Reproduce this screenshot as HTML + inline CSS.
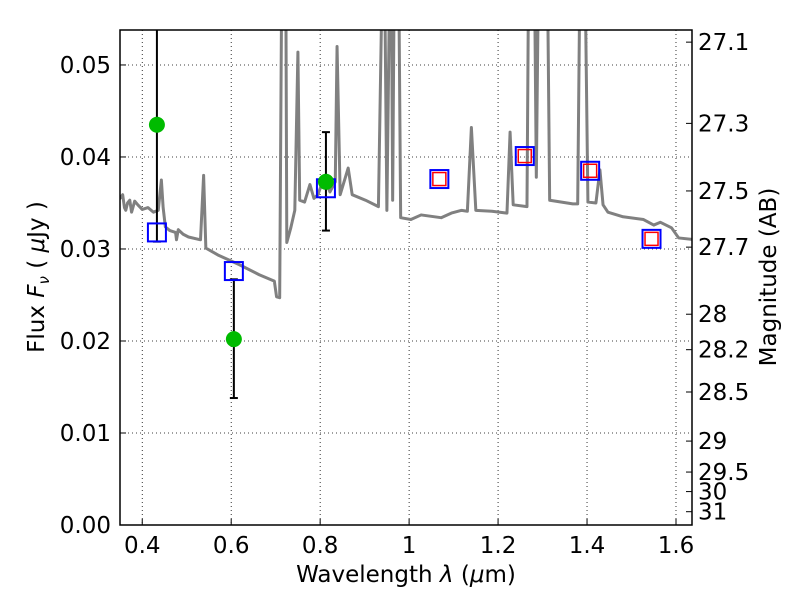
<!DOCTYPE html>
<html><head><meta charset="utf-8"><style>
body{margin:0;background:#fff}
svg text{font-family:"DejaVu Sans","Liberation Sans",sans-serif;fill:#000}
</style></head><body>
<svg id="chart" width="800" height="600" xmlns="http://www.w3.org/2000/svg">
<defs><clipPath id="clip"><rect x="120" y="30" width="572" height="495"/></clipPath></defs>
<g id="grid"></g>
<g id="series" clip-path="url(#clip)"></g>
<rect x="120" y="30" width="572" height="495" fill="none" stroke="#000" stroke-width="1.5"/>
<g id="axes"></g>
<text x="406" y="582" font-size="23" text-anchor="middle">Wavelength  <tspan font-style="italic">λ</tspan> (<tspan font-style="italic">μ</tspan>m)</text>
<text transform="translate(44,277) rotate(-90)" font-size="23" text-anchor="middle">Flux  <tspan font-style="italic">F</tspan><tspan font-style="italic" font-size="15" dy="5">ν</tspan><tspan dy="-5">   ( </tspan><tspan font-style="italic">μ</tspan>Jy )</text>
<text transform="translate(776,277) rotate(-90)" font-size="23" text-anchor="middle">Magnitude (AB)</text>
</svg>
<script>
const specWl=[0.343,0.350,0.356,0.360,0.363,0.367,0.372,0.376,0.379,0.383,0.390,0.400,0.413,0.425,0.436,0.443,0.447,0.452,0.462,0.475,0.477,0.481,0.492,0.504,0.531,0.538,0.543,0.572,0.618,0.663,0.697,0.702,0.709,0.715,0.722,0.725,0.734,0.743,0.750,0.754,0.765,0.777,0.786,0.795,0.803,0.811,0.822,0.834,0.838,0.845,0.863,0.872,0.902,0.931,0.943,0.950,0.959,0.963,0.968,0.975,0.981,1.004,1.027,1.072,1.095,1.118,1.131,1.140,1.150,1.186,1.220,1.227,1.234,1.265,1.270,1.280,1.286,1.293,1.309,1.316,1.368,1.379,1.386,1.393,1.402,1.420,1.429,1.436,1.447,1.481,1.527,1.550,1.565,1.590,1.606,1.645];
const specFlux=[0.0364,0.0355,0.0359,0.0345,0.0342,0.0350,0.0353,0.0340,0.0345,0.0352,0.0348,0.0343,0.0345,0.0340,0.0342,0.0375,0.0345,0.0324,0.0320,0.0318,0.0310,0.0321,0.0316,0.0313,0.0310,0.0380,0.0301,0.0293,0.0283,0.0272,0.0265,0.0248,0.0247,0.07,0.07,0.0307,0.0323,0.0342,0.0514,0.0353,0.0351,0.0370,0.0355,0.0359,0.0370,0.0375,0.0362,0.0373,0.0520,0.0359,0.0388,0.0359,0.0353,0.0346,0.07,0.0342,0.07,0.0353,0.07,0.07,0.0334,0.0332,0.0337,0.0334,0.0339,0.0342,0.0341,0.0432,0.0342,0.0341,0.0339,0.0427,0.0348,0.0346,0.07,0.07,0.0378,0.07,0.07,0.0353,0.0349,0.0349,0.07,0.07,0.0351,0.0350,0.0386,0.0348,0.0340,0.0335,0.0332,0.0326,0.0329,0.0323,0.0312,0.0310];
const obsWl=[0.433,0.606,0.813];
const obsFlux=[0.0435,0.0202,0.0373];
const obsLo=[0.0308,0.0138,0.0320];
const obsHi=[0.07,0.0267,0.0427];
const modelWl=[0.433,0.606,0.813,1.068,1.26,1.407,1.545];
const modelFlux=[0.0318,0.0276,0.0366,0.0376,0.0401,0.0385,0.0311];
const redWl=[1.068,1.26,1.407,1.545];
const redFlux=[0.0376,0.0401,0.0385,0.0311];
const xTicks=[0.4,0.6,0.8,1.0,1.2,1.4,1.6];
const xTickLabels=["0.4","0.6","0.8","1","1.2","1.4","1.6"];
const yTicks=[0,0.01,0.02,0.03,0.04,0.05];
const yTickLabels=["0.00","0.01","0.02","0.03","0.04","0.05"];
const magTicks=[27.1,27.3,27.5,27.7,28,28.2,28.5,29,29.5,30,31];

const X0=120,X1=692,Y0=525,Y1=30,xmin=0.350,xmax=1.636,ymin=0,ymax=0.0538;
const sx=v=>X0+(v-xmin)/(xmax-xmin)*(X1-X0);
const sy=v=>Y0-(v-ymin)/(ymax-ymin)*(Y0-Y1);
const NS="http://www.w3.org/2000/svg";
function mk(tag,attrs,parent){const e=document.createElementNS(NS,tag);for(const k in attrs)e.setAttribute(k,attrs[k]);parent.appendChild(e);return e;}
const grid=document.getElementById('grid'),ser=document.getElementById('series'),axes=document.getElementById('axes');
xTicks.forEach((t,i)=>{
 const g=mk('line',{x1:sx(t),x2:sx(t),y1:Y1,y2:Y0,stroke:'#000','stroke-width':0.8,'stroke-dasharray':'1,3'},grid);
 
 
 const tk=mk('line',{x1:sx(t),x2:sx(t),y1:Y0,y2:Y0-6,stroke:'#000'},axes);
 
 
 const tx=mk('text',{x:sx(t),y:Y0+28,'font-size':23,'text-anchor':'middle'},axes);
 tx.textContent=xTickLabels[i];
 
 
});
yTicks.forEach((t,i)=>{
 const g=mk('line',{x1:X0,x2:X1,y1:sy(t),y2:sy(t),stroke:'#000','stroke-width':0.8,'stroke-dasharray':'1,3'},grid);
 
 
 const tk=mk('line',{x1:X0,x2:X0+6,y1:sy(t),y2:sy(t),stroke:'#000'},axes);
 
 
 const tx=mk('text',{x:X0-9,y:sy(t)+8,'font-size':23,'text-anchor':'end'},axes);
 tx.textContent=yTickLabels[i];
 
 
});
magTicks.forEach(m=>{
 const f=Math.pow(10,(23.9-m)/2.5);const y=sy(f);
 const tk=mk('line',{x1:X1,x2:X1-6,y1:y,y2:y,stroke:'#000'},axes);
 
 
 const tx=mk('text',{x:X1+6,y:y+8,'font-size':23},axes);
 tx.textContent=String(m);
 
 
});
const sp=mk('polyline',{points:specWl.map((w,i)=>sx(w)+','+sy(specFlux[i])).join(' '),fill:'none',stroke:'#808080','stroke-width':3,'stroke-linejoin':'round'},ser);


obsWl.forEach((w,i)=>{
 const x=sx(w);
 const e=mk('line',{x1:x,x2:x,y1:sy(obsLo[i]),y2:sy(obsHi[i]),stroke:'#000','stroke-width':2},ser);
 
 
 [obsLo[i],obsHi[i]].forEach(v=>{
  const c=mk('line',{x1:x-4,x2:x+4,y1:sy(v),y2:sy(v),stroke:'#000','stroke-width':2},ser);
  
  
 });
});
modelWl.forEach((w,i)=>{
 const r=mk('rect',{x:sx(w)-9,y:sy(modelFlux[i])-9,width:18,height:18,fill:'none',stroke:'#0000ff','stroke-width':2},ser);
 
 
});
redWl.forEach((w,i)=>{
 const r=mk('rect',{x:sx(w)-6.5,y:sy(redFlux[i])-6.5,width:13,height:13,fill:'none',stroke:'#ff0000','stroke-width':1.5},ser);
 
 
});
obsWl.forEach((w,i)=>{
 const c=mk('circle',{cx:sx(w),cy:sy(obsFlux[i]),r:8,fill:'#00bb00'},ser);
 
 
});
</script>
</body></html>
